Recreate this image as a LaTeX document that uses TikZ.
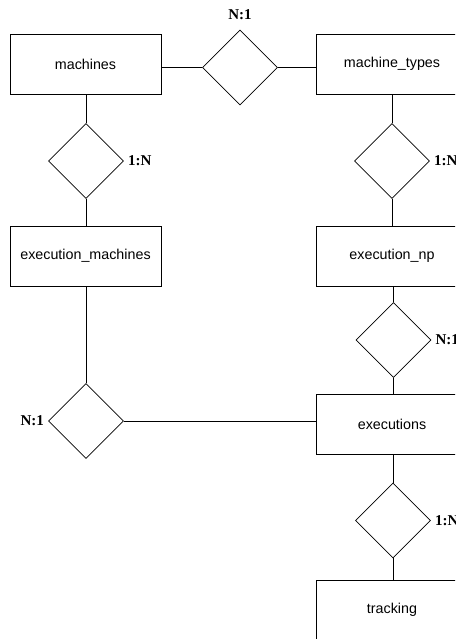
\documentclass[tikz,border=0pt]{standalone}
\usepackage{fontspec}
\setmainfont{Liberation Serif}
\newfontfamily\entityfont{Liberation Sans}
\usetikzlibrary{shapes.geometric}
\begin{document}
\begin{tikzpicture}[x=1pt,y=-1pt,
  entity/.style={draw,line width=0.8pt,minimum width=151pt,minimum height=60pt,
    inner sep=0pt,font=\entityfont\fontsize{14.3}{16}\selectfont},
  relation/.style={draw,diamond,line width=0.8pt,minimum width=75pt,minimum height=75pt,inner sep=0pt},
  card/.style={font=\bfseries\fontsize{15}{17}\selectfont,inner sep=0pt},
  link/.style={line width=0.8pt}]
\useasboundingbox (0,0) rectangle (455,639);
\clip (0,0) rectangle (455,639);

% entities
\node[entity] (mach)   at (85.5,64)  {machines};
\node[entity] (mtypes) at (392,64)   {machine\_types};
\node[entity] (exm)    at (85.5,256) {execution\_machines};
\node[entity] (exnp)   at (392,256)  {execution\_np};
\node[entity] (exec)   at (392,424)  {executions};
\node[entity] (track)  at (392,610)  {tracking};

% relationships
\node[relation] (rel1) at (240,67.5) {};
\node[relation] (rel2) at (86,161)   {};
\node[relation] (rel3) at (392,161)  {};
\node[relation] (rel4) at (393.5,340) {};
\node[relation] (rel5) at (86,421)   {};
\node[relation] (rel6) at (393,520.5) {};

% cardinalities
\node[card] (c1) at (240,15) {N:1};
\node[card,anchor=west] (c2) at ([xshift=4pt]rel2.east) {1:N};
\node[card,anchor=west] (c3) at ([xshift=4pt]rel3.east) {1:N};
\node[card,anchor=west] (c4) at ([xshift=4pt]rel4.east) {N:1};
\node[card,anchor=east] (c5) at ([xshift=-4pt]rel5.west) {N:1};
\node[card,anchor=west] (c6) at ([xshift=4pt]rel6.east) {1:N};

% connectors
\draw[link] (rel1.west) -- (rel1.west -| mach.east);
\draw[link] (rel1.east) -- (rel1.east -| mtypes.west);
\draw[link] (rel2.north) -- (rel2.north |- mach.south);
\draw[link] (rel2.south) -- (rel2.south |- exm.north);
\draw[link] (rel3.north) -- (rel3.north |- mtypes.south);
\draw[link] (rel3.south) -- (rel3.south |- exnp.north);
\draw[link] (rel4.north) -- (rel4.north |- exnp.south);
\draw[link] (rel4.south) -- (rel4.south |- exec.north);
\draw[link] (rel5.north) -- (rel5.north |- exm.south);
\draw[link] (rel5.east) -- (rel5.east -| exec.west);
\draw[link] (rel6.north) -- (rel6.north |- exec.south);
\draw[link] (rel6.south) -- (rel6.south |- track.north);
\end{tikzpicture}
\end{document}
